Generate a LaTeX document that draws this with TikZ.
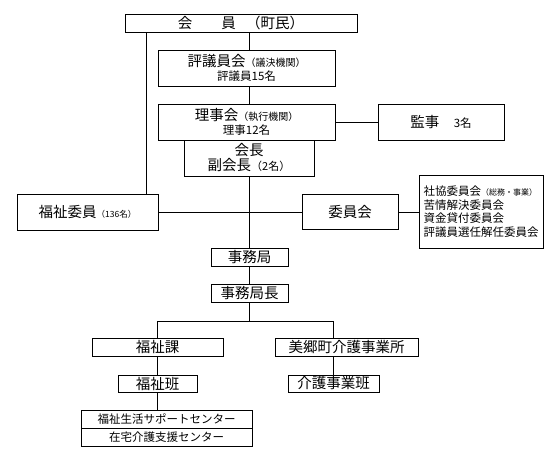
\documentclass[tikz,border=0pt]{standalone}
\usepackage{fontspec}
\setmainfont{Noto Sans CJK JP}
\usetikzlibrary{positioning}

\tikzset{
  orgbox/.style={draw=black, line width=0.7pt, inner sep=0pt, align=center,
    font=\fontsize{14.5}{15}\selectfont},
  link/.style={black, line width=0.7pt}
}
\newcommand{\subnote}[2]{{\fontsize{#1}{#1}\selectfont #2}}

\begin{document}
\begin{tikzpicture}[x=1pt, y=-1pt]
\useasboundingbox (0,0) rectangle (560,454);
%%%%%%%%% top
\node[orgbox, minimum width=232pt, minimum height=18pt] (member) at (241,23)
  {会\hspace{2em}員\hspace{0.7em}（町民）};
\node[orgbox, minimum width=177pt, minimum height=36pt] (council) at (246.5,68)
  {評議員会\subnote{10}{（議決機関）}\\[-1pt]\subnote{11.5}{評議員15名}};
\node[orgbox, minimum width=177pt, minimum height=36pt] (board) at (246.5,122)
  {理事会\subnote{10}{（執行機関）}\\[-1pt]\subnote{11.5}{理事12名}};
\node[orgbox, minimum width=130pt, minimum height=36pt] (chair) at (249,158)
  {会長\\副会長\subnote{11}{（2名）}};
\node[orgbox, minimum width=126pt, minimum height=36pt] (audit) at (441,122)
  {監事\hspace{1em}\subnote{11.5}{3名}};
%%%%%%%%% middle row
\node[orgbox, minimum width=141pt, minimum height=36pt] (welfare) at (87.5,212)
  {福祉委員\subnote{8.5}{（136名）}};
\node[orgbox, minimum width=96pt, minimum height=35pt] (committee) at (350,212)
  {委員会};
\node[orgbox, minimum width=124pt, minimum height=73pt, align=left,
  font=\fontsize{11.5}{13.5}\selectfont] (list) at (481,211.5)
  {社協委員会\subnote{8}{（総務・事業）}\\苦情解決委員会\\資金貸付委員会\\評議員選任解任委員会};
%%%%%%%%% office
\node[orgbox, minimum width=77pt, minimum height=18pt] (office) at (249.5,257) {事務局};
\node[orgbox, minimum width=77pt, minimum height=18pt] (chief) at (249.5,293) {事務局長};
%%%%%%%%% bottom
\node[orgbox, minimum width=131pt, minimum height=18pt] (section) at (157.5,347) {福祉課};
\node[orgbox, minimum width=143pt, minimum height=18pt] (business) at (346.5,347) {美郷町介護事業所};
\node[orgbox, minimum width=79pt, minimum height=17pt] (team1) at (157.5,383.5) {福祉班};
\node[orgbox, minimum width=91pt, minimum height=17pt] (team2) at (333.5,383.5) {介護事業班};
\node[orgbox, minimum width=171pt, minimum height=18pt, font=\fontsize{11.5}{12}\selectfont]
  (centre1) at (166.5,419) {福祉生活サポートセンター};
\node[orgbox, minimum width=171pt, minimum height=18pt, font=\fontsize{11.5}{12}\selectfont]
  (centre2) at (166.5,437) {在宅介護支援センター};

%%%%%%%%% links
\coordinate (leftdrop) at (146,0);
\coordinate (split) at (0,321);
\draw[link] (member.south -| leftdrop) -- (leftdrop |- welfare.north);
\draw[link] (member.south -| chair) -- (council.north -| chair);
\draw[link] (council.south -| chair) -- (board.north -| chair);
\draw[link] (board.east) -- (audit.west);
\draw[link] (chair.south) -- (office.north -| chair);
\draw[link] (welfare.east) -- (committee.west);
\draw[link] (committee.east) -- (list.west |- committee.east);
\draw[link] (office.south) -- (chief.north);
\draw[link] (chief.south) -- (chief |- split);
\draw[link] (section.north) -- (section |- split) -- (team2 |- split) -- (team2 |- business.north);
\draw[link] (section.south) -- (team1.north);
\draw[link] (team2 |- business.south) -- (team2.north);
\draw[link] (team1.south) -- (team1.south |- centre1.north);
\end{tikzpicture}
\end{document}
